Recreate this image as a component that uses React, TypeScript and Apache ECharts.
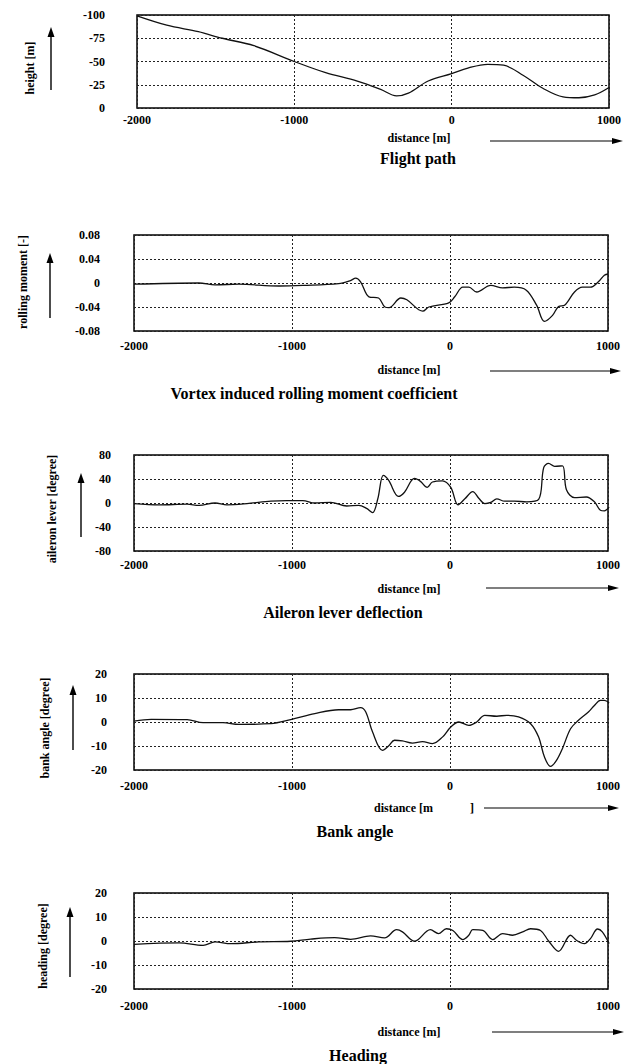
import React, { useEffect, useRef } from "react";
import * as echarts from "echarts";

// ---- data (distance [m] / value) ----
const pathX = [-2000, -1811, -1610, -1458, -1257, -1000, -801, -600, -451, -350, -275, -149, 0, 103, 229, 330, 456, 582, 708, 809, 909, 1000];
const pathY = [-99, -89, -82, -75, -67, -50, -38, -29, -20, -13, -16, -29, -37, -43, -47, -46, -35, -21, -12, -11, -14, -22];

const rollX = [-2000, -1590, -1487, -1336, -1083, -932, -705, -630, -597, -566, -513, -452, -412, -386, -311, -273, -172, -134, -8, 30, 81, 119, 169, 258, 333, 407, 483, 548, 598, 649, 687, 725, 788, 838, 889, 939, 977, 1002];
const rollY = [-0.002, 0, -0.003, -0.002, -0.005, -0.004, -0.001, 0.004, 0.008, 0.002, -0.023, -0.025, -0.04, -0.041, -0.025, -0.028, -0.047, -0.04, -0.033, -0.023, -0.007, -0.007, -0.015, -0.004, -0.008, -0.007, -0.012, -0.037, -0.064, -0.054, -0.039, -0.037, -0.015, -0.007, -0.007, 0.002, 0.013, 0.015];

const aileronX = [-2000, -1841, -1664, -1588, -1487, -1412, -1285, -1134, -1033, -932, -856, -755, -654, -578, -528, -490, -457, -422, -389, -326, -288, -225, -187, -144, -111, -48, 5, 51, 94, 144, 182, 220, 258, 296, 346, 409, 485, 561, 593, 624, 662, 712, 737, 788, 863, 914, 952, 977, 1007];
const aileronY = [-1, -3, -2, -4, 0, -3, -1, 3, 4, 4, 0, 1, -5, -4, -9, -16, 7, 46, 38, 11, 18, 41, 36, 26, 35, 37, 26, -3, 7, 19, 8, -1, 1, 7, 3, 3, 2, 6, 59, 66, 61, 62, 22, 9, 10, 2, -12, -13, -7];

const bankX = [-2000, -1891, -1664, -1563, -1437, -1336, -1134, -1008, -856, -705, -629, -566, -533, -490, -427, -389, -351, -301, -238, -174, -111, -48, 5, 56, 119, 169, 220, 296, 359, 434, 510, 561, 598, 636, 674, 712, 763, 813, 876, 914, 952, 977, 1007];
const bankY = [0.4, 1.1, 1, -0.3, -0.3, -1, -0.7, 1, 3.5, 5.1, 5.1, 6, 4.2, -4.2, -11.8, -10, -7.6, -7.9, -8.8, -8.2, -9, -6.3, -2.1, 0, -1.4, 0, 2.8, 2.4, 2.8, 2.1, -0.7, -6.3, -14.6, -18.5, -16, -11, -2.8, 0.7, 4.2, 6.9, 9, 9, 8];

const headingX = [-2000, -1714, -1563, -1487, -1386, -1210, -1008, -882, -730, -629, -503, -414, -338, -301, -225, -124, -73, -23, 18, 81, 119, 144, 207, 270, 333, 396, 460, 510, 573, 624, 687, 763, 800, 851, 889, 934, 964, 1007];
const headingY = [-1.4, -0.8, -1.8, -0.4, -1.1, -0.4, -0.1, 0.8, 1.4, 0.7, 2.1, 1.3, 4.7, 3.8, -0.1, 4.7, 3.1, 5.1, 4.4, 0.6, 2.4, 4.7, 4.4, 0.6, 3.1, 2.4, 3.8, 5.1, 4.4, 0, -4.3, 2.4, 0.3, -1.1, 1, 5, 3.8, -1.1];

const xTicks = { min: -2000, max: 1000, interval: 1000 };

const titles = ["Flight path", "Vortex induced rolling moment coefficient", "Aileron lever deflection", "Bank angle", "Heading"];
const yNames = ["height [m]", "rolling moment [-]", "aileron lever [degree]", "bank angle [degree]", "heading [degree]"];
const yRanges = [
  { min: -100, max: 0, interval: 25, inverse: true },
  { min: -0.08, max: 0.08, interval: 0.04, inverse: false },
  { min: -80, max: 80, interval: 40, inverse: false },
  { min: -20, max: 20, interval: 10, inverse: false },
  { min: -20, max: 20, interval: 10, inverse: false },
];
const seriesX = [pathX, rollX, aileronX, bankX, headingX];
const seriesY = [pathY, rollY, aileronY, bankY, headingY];

// ---- layout ----
const grids = [
  { left: 137, top: 15, width: 475, height: 93, yMargin: 32, xMargin: 6 },
  { left: 134, top: 235, width: 474, height: 96, yMargin: 34, xMargin: 9 },
  { left: 134, top: 455, width: 474, height: 96, yMargin: 23, xMargin: 8 },
  { left: 134, top: 674, width: 474, height: 96, yMargin: 27, xMargin: 10 },
  { left: 134, top: 893, width: 474, height: 96, yMargin: 27, xMargin: 11 },
];
const yNamePos = [[30, 68], [23, 282], [52, 509], [45, 728], [43, 946]];
const vArrows = [[51, 90, 27], [50, 318, 253], [81, 537, 473], [73, 750, 685], [70, 977, 907]];
const distPos = [[419, 138], [409, 370], [409, 589], [409, 808], [409, 1032]];
const hArrows = [[490, 623, 141], [490, 621, 371], [486, 619, 588], [484, 619, 808], [492, 624, 1032]];
const titlePos = [[418, 158], [314, 393], [343, 612], [355, 831], [358, 1055]];

const FONT = "'Liberation Serif', 'Times New Roman', serif";

export default function App() {
  const ref = useRef<HTMLDivElement>(null);
  useEffect(() => {
    if (!ref.current) return;
    const chart = echarts.init(ref.current, undefined, { renderer: "svg" });
    const graphic: any[] = [];
    yNamePos.forEach(([x, y], i) => {
      graphic.push({
        type: "text", x, y, rotation: Math.PI / 2,
        style: { text: yNames[i], font: `bold 12px ${FONT}`, fill: "#000", textAlign: "center", textVerticalAlign: "middle" },
      });
    });
    vArrows.forEach(([x, y1, y2]) => {
      graphic.push({ type: "line", shape: { x1: x, y1, x2: x, y2: y2 + 6 }, style: { stroke: "#000", lineWidth: 1.4 } });
      graphic.push({ type: "polygon", shape: { points: [[x, y2], [x - 3.5, y2 + 10], [x + 3.5, y2 + 10]] }, style: { fill: "#000" } });
    });
    hArrows.forEach(([x1, x2, y]) => {
      graphic.push({ type: "line", shape: { x1, y1: y, x2: x2 - 6, y2: y }, style: { stroke: "#000", lineWidth: 1.2 } });
      graphic.push({ type: "polygon", shape: { points: [[x2, y], [x2 - 11, y - 3], [x2 - 11, y + 3]] }, style: { fill: "#000" } });
    });
    distPos.forEach(([x, y], i) => {
      if (i === 3) {
        graphic.push({ type: "text", x: 374, y, style: { text: "distance [m", font: `bold 12px ${FONT}`, fill: "#000", textAlign: "left", textVerticalAlign: "middle" } });
        graphic.push({ type: "text", x: 472, y, style: { text: "]", font: `bold 12px ${FONT}`, fill: "#000", textAlign: "center", textVerticalAlign: "middle" } });
      } else {
        graphic.push({ type: "text", x, y, style: { text: "distance [m]", font: `bold 12px ${FONT}`, fill: "#000", textAlign: "center", textVerticalAlign: "middle" } });
      }
    });
    titlePos.forEach(([x, y], i) => {
      graphic.push({ type: "text", x, y, style: { text: titles[i], font: `bold 16px ${FONT}`, fill: "#000", textAlign: "center", textVerticalAlign: "middle" } });
    });

    chart.setOption({
      animation: false,
      backgroundColor: "#fff",
      grid: grids.map((g) => ({ left: g.left, top: g.top, width: g.width, height: g.height, show: true, borderColor: "#000", borderWidth: 1.5, backgroundColor: "transparent" })),
      xAxis: grids.map((g, i) => ({
        type: "value", gridIndex: i, min: xTicks.min, max: xTicks.max, interval: xTicks.interval,
        axisLine: { show: false }, axisTick: { show: false },
        axisLabel: { margin: g.xMargin, color: "#000", fontFamily: FONT, fontWeight: "bold", fontSize: 12, formatter: (v: number) => String(v) },
        splitLine: { show: true, lineStyle: { color: "#222", type: [2, 2], width: 1 } },
      })),
      yAxis: grids.map((g, i) => ({
        type: "value", gridIndex: i, min: yRanges[i].min, max: yRanges[i].max, interval: yRanges[i].interval, inverse: yRanges[i].inverse,
        axisLine: { show: false }, axisTick: { show: false },
        axisLabel: { margin: g.yMargin, color: "#000", fontFamily: FONT, fontWeight: "bold", fontSize: 12 },
        splitLine: { show: true, lineStyle: { color: "#222", type: [2, 2], width: 1 } },
      })),
      series: seriesX.map((xs, i) => ({
        type: "line", xAxisIndex: i, yAxisIndex: i, smooth: 0.35, symbol: "none",
        lineStyle: { color: "#111", width: 1.3 },
        data: xs.map((x, k) => [x, seriesY[i][k]]),
      })),
      graphic,
    });
    return () => chart.dispose();
  }, []);
  return <div ref={ref} style={{ position: "absolute", left: 0, top: 0, width: 624, height: 1064 }} />;
}
